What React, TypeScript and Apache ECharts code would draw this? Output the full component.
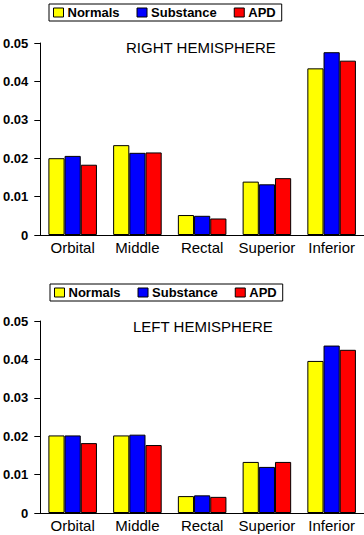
import React, { useEffect, useRef } from "react";
import * as echarts from "echarts";

const categories = ["Orbital", "Middle", "Rectal", "Superior", "Inferior"];
const seriesNames = ["Normals", "Substance", "APD"];
const seriesColors = ["#ffff00", "#0000ff", "#ff0000"];

const rightNormals = [0.02, 0.0234, 0.0052, 0.0139, 0.0434];
const rightSubstance = [0.0206, 0.0214, 0.005, 0.0132, 0.0476];
const rightAPD = [0.0183, 0.0215, 0.0043, 0.0148, 0.0454];

const leftNormals = [0.0202, 0.0202, 0.0044, 0.0133, 0.0396];
const leftSubstance = [0.0202, 0.0204, 0.0046, 0.012, 0.0436];
const leftAPD = [0.0182, 0.0177, 0.0042, 0.0133, 0.0425];

const yTicks = { min: 0, max: 0.05, interval: 0.01 };

const FONT = "Liberation Sans, Arial, Helvetica, sans-serif";

export default function App() {
  const ref = useRef<HTMLDivElement>(null);
  useEffect(() => {
    if (!ref.current) return;
    const chart = echarts.init(ref.current, undefined, { renderer: "svg" });
    const grids = [
      { left: 39, right: 0, top: 43, height: 192 },
      { left: 39, right: 0, top: 321, height: 192 },
    ];
    const xAxes = grids.map((_, i) => ({
      type: "category",
      gridIndex: i,
      data: categories,
      axisLine: { lineStyle: { color: "#000", width: 1 } },
      axisTick: { show: false },
      axisLabel: { color: "#000", fontSize: 15, fontFamily: FONT, margin: 5, interval: 0, hideOverlap: false },
    }));
    const yAxes = grids.map((_, i) => ({
      type: "value",
      gridIndex: i,
      min: yTicks.min,
      max: yTicks.max,
      interval: yTicks.interval,
      axisLine: { show: true, lineStyle: { color: "#000", width: 1 } },
      axisTick: { show: true, length: 6, lineStyle: { color: "#000" } },
      splitLine: { show: false },
      axisLabel: {
        color: "#000",
        fontSize: 13,
        fontWeight: "bold",
        fontFamily: FONT,
        margin: 12,
        formatter: (v: number) => (v === 0 ? "0" : v.toFixed(2)),
      },
    }));
    const dataSets = [
      [rightNormals, rightSubstance, rightAPD],
      [leftNormals, leftSubstance, leftAPD],
    ];
    const series: any[] = [];
    dataSets.forEach((set, gi) => {
      set.forEach((vals, si) => {
        series.push({
          type: "bar",
          name: seriesNames[si],
          xAxisIndex: gi,
          yAxisIndex: gi,
          data: vals,
          barGap: "0%",
          barCategoryGap: "25%",
          itemStyle: { color: seriesColors[si], borderColor: "#000", borderWidth: 1 },
        });
      });
    });
    const legendBase = {
      data: seriesNames,
      orient: "horizontal",
      icon: "rect",
      itemWidth: 10,
      itemHeight: 9,
      itemGap: 17,
      borderColor: "#000",
      borderWidth: 1,
      padding: [2, 6, 2, 4],
      selectedMode: false,
      itemStyle: { borderColor: "#000", borderWidth: 1 },
      textStyle: { color: "#000", fontSize: 13, fontWeight: "bold", fontFamily: FONT, padding: [0, 0, 0, -1] },
    };
    chart.setOption({
      animation: false,
      backgroundColor: "#fff",
      title: [
        { text: "RIGHT HEMISPHERE", left: 126, top: 40, padding: 0, textStyle: { color: "#000", fontSize: 15, fontWeight: "normal", fontFamily: FONT } },
        { text: "LEFT HEMISPHERE", left: 133, top: 319, padding: 0, textStyle: { color: "#000", fontSize: 15, fontWeight: "normal", fontFamily: FONT } },
      ],
      legend: [
        { ...legendBase, left: 49, top: 4 },
        { ...legendBase, left: 50, top: 284 },
      ],
      grid: grids,
      xAxis: xAxes,
      yAxis: yAxes,
      series,
    });
    return () => chart.dispose();
  }, []);
  return <div ref={ref} style={{ position: "fixed", left: 0, top: 0, width: 364, height: 535 }} />;
}
